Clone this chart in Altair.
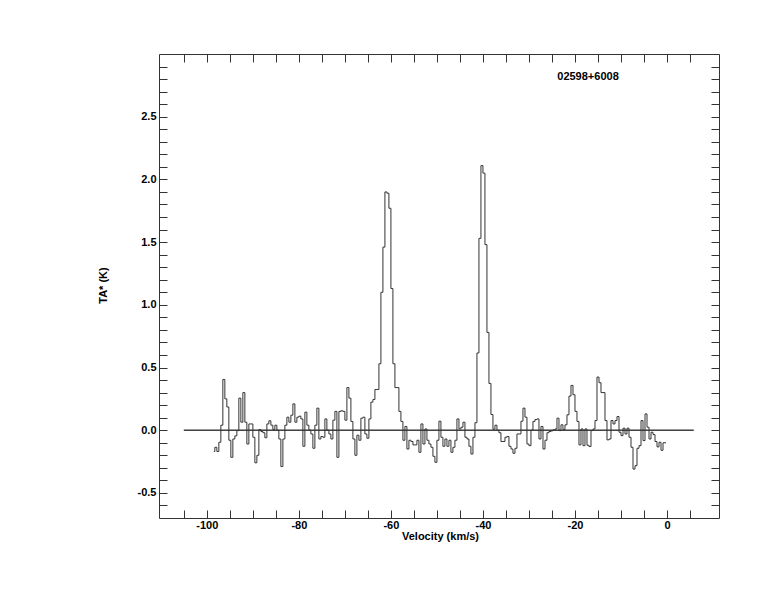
import altair as alt
import pandas as pd

# ---- spectrum: antenna temperature per channel (K) ----
V_START = -98.48   # centre velocity of first channel (km/s)
V_STEP = 0.4348    # channel width (km/s)
ta = [
    -0.17, -0.136, -0.17, -0.096, 0.04, 0.405, 0.25, 0.185, -0.08, -0.216,
    -0.07, -0.045, -0.003, 0.256, 0.064, 0.3, 0.064, -0.11, 0.05, 0.05,
    -0.056, -0.26, -0.2, 0.005, -0.01, -0.02, -0.06, 0.05, 0.075, 0.04,
    0.005, 0.04, 0.0, -0.07, -0.29, -0.07, 0.04, 0.104, 0.064, 0.12,
    0.21, 0.064, 0.104, 0.112, 0.09, -0.128, 0.144, 0.04, 0.0, -0.03,
    -0.144, 0.04, 0.176, -0.07, -0.05, -0.056, 0.09, 0.0, -0.03, -0.07,
    0.08, 0.15, -0.216, 0.15, 0.155, 0.15, 0.08, 0.34, 0.256, 0.07,
    -0.07, -0.2, -0.04, -0.08, 0.096, 0.104, -0.03, -0.064, 0.09, 0.224,
    0.245, 0.325, 0.325, 0.53, 1.10, 1.46, 1.90, 1.89, 1.77, 1.13,
    0.53, 0.34, 0.34, 0.15, 0.07, -0.08, 0.03, -0.15, -0.08, -0.09,
    -0.117, -0.117, -0.08, -0.176, 0.05, -0.11, 0.01, -0.08, -0.11, -0.136,
    -0.208, -0.256, -0.08, 0.072, -0.056, -0.128, -0.07, -0.128, -0.08, -0.176,
    -0.136, -0.08, 0.09, 0.01, 0.024, 0.064, -0.056, -0.07, -0.128, -0.19,
    -0.056, 0.06, 0.616, 1.53, 2.11, 2.05, 1.48, 0.78, 0.373, 0.125,
    0.008, 0.04, 0.0, -0.02, -0.09, -0.09, -0.056, -0.05, -0.128, -0.15,
    -0.184, -0.144, -0.03, -0.03, 0.072, 0.176, 0.104, -0.11, -0.123, 0.0,
    0.07, 0.085, 0.09, -0.07, 0.03, -0.15, -0.08, -0.02, -0.01, -0.005,
    0.003, 0.01, 0.096, -0.003, 0.043, 0.005, 0.043, 0.123, 0.272, 0.357,
    0.283, 0.15, 0.07, -0.117, 0.01, -0.123, 0.01, -0.12, -0.13, -0.003,
    0.01, 0.077, 0.424, 0.379, 0.3, 0.3, 0.077, -0.077, -0.07, 0.077,
    0.05, 0.077, 0.109, -0.016, -0.043, 0.016, -0.03, 0.016, -0.056, -0.136,
    -0.31, -0.283, -0.144, -0.123, 0.077, -0.083, 0.13, 0.024, -0.07, -0.016,
    -0.035, -0.09, -0.133, -0.096, -0.16, -0.1, -0.1,
]
velocity = [round(V_START + i * V_STEP, 4) for i in range(len(ta))]

# zero baseline extent
baseline_start = [-105]
baseline_end = [5.8]
baseline_level = [0.0]

# axes
x_domain = [-110.4, 11.3]
y_domain = [-0.7, 3.0]
x_tick_values = [-105, -100, -95, -90, -85, -80, -75, -70, -65, -60, -55, -50,
                 -45, -40, -35, -30, -25, -20, -15, -10, -5, 0, 5]
y_tick_values = [-0.6, -0.5, -0.4, -0.3, -0.2, -0.1, 0.0, 0.1, 0.2, 0.3, 0.4,
                 0.5, 0.6, 0.7, 0.8, 0.9, 1.0, 1.1, 1.2, 1.3, 1.4, 1.5, 1.6,
                 1.7, 1.8, 1.9, 2.0, 2.1, 2.2, 2.3, 2.4, 2.5, 2.6, 2.7, 2.8, 2.9]
source_name = "02598+6008"

W, H = 560, 464
FONT = "Liberation Sans"
LINE = "#333333"

spec = pd.DataFrame({"v": velocity, "t": ta})
base = pd.DataFrame({"x": baseline_start, "x2": baseline_end, "y": baseline_level})

xs = alt.Scale(domain=x_domain, nice=False, zero=False)
ys = alt.Scale(domain=y_domain, nice=False, zero=False)

tick_axis = dict(labels=False, domain=False, ticks=True, tickSize=8,
                 tickColor=LINE, tickWidth=1, grid=False, title="")

# layer 1: spectrum + labelled axes
line = alt.Chart(spec).mark_line(interpolate="step", color=LINE, strokeWidth=1).encode(
    x=alt.X("v:Q", scale=xs, axis=alt.Axis(
        orient="bottom", values=x_tick_values, ticks=False, domain=False, grid=False,
        labelExpr="datum.value % 20 === 0 ? toString(datum.value) : ''",
        labelFont=FONT, labelFontWeight="bold", labelFontSize=11, labelColor="black",
        labelPadding=1, labelFlush=False,
        title="Velocity (km/s)", titleFont=FONT, titleFontWeight="bold",
        titleFontSize=11, titleColor="black", titleX=281, titleY=18,
        titleBaseline="middle", titleAlign="center")),
    y=alt.Y("t:Q", scale=ys, axis=alt.Axis(
        orient="left", values=y_tick_values, ticks=False, domain=False, grid=False,
        labelExpr="round(datum.value*10) % 5 === 0 ? replace(format(datum.value, '.1f'), '\u2212', '-') : ''",
        labelFont=FONT, labelFontWeight="bold", labelFontSize=11, labelColor="black",
        labelPadding=3, labelFlush=False,
        title="TA* (K)", titleFont=FONT, titleFontWeight="bold",
        titleFontSize=11, titleColor="black", titleX=-56, titleY=231,
        titleBaseline="middle", titleAlign="center", titleAngle=-90)),
)

# layer 2: baseline, with inward ticks on bottom and left edges
rule_a = alt.Chart(base).mark_rule(color=LINE, strokeWidth=1).encode(
    x=alt.X("x:Q", scale=xs, axis=alt.Axis(orient="top", offset=-H, values=x_tick_values, **tick_axis)),
    x2="x2:Q",
    y=alt.Y("y:Q", scale=ys, axis=alt.Axis(orient="right", offset=-W, values=y_tick_values, **tick_axis)),
)

# layer 3: baseline again, with inward ticks on top and right edges
rule_b = alt.Chart(base).mark_rule(color=LINE, strokeWidth=1).encode(
    x=alt.X("x:Q", scale=xs, axis=alt.Axis(orient="bottom", offset=-H, values=x_tick_values, **tick_axis)),
    x2="x2:Q",
    y=alt.Y("y:Q", scale=ys, axis=alt.Axis(orient="left", offset=-W, values=y_tick_values, **tick_axis)),
)

label = alt.Chart(pd.DataFrame({"name": [source_name]})).mark_text(
    font=FONT, fontWeight="bold", fontSize=11, color="black",
    align="center", baseline="middle").encode(
    text="name:N", x=alt.value(429), y=alt.value(23))

chart = alt.layer(line, rule_a, rule_b, label).resolve_axis(
    x="independent", y="independent"
).properties(
    width=W, height=H,
    autosize=alt.AutoSizeParams(type="none"),
    padding={"left": 151, "top": 46, "right": 47, "bottom": 86},
    background="white",
).configure_view(stroke=LINE, strokeWidth=1)

chart.save("out.html", embed_options={"renderer": "svg", "actions": False})
